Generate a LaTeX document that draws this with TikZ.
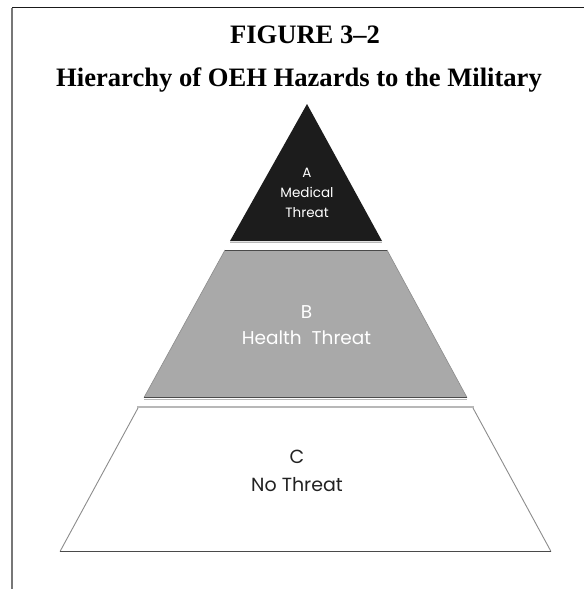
\documentclass[tikz,border=0pt]{standalone}
\usepackage{fontspec}
\setmainfont{Liberation Serif}
\newfontfamily\gothic{Poppins}
\definecolor{frameblack}{HTML}{1A1A1A}
\definecolor{framegray}{HTML}{777777}
\definecolor{topblack}{HTML}{1C1C1C}
\definecolor{midgray}{HTML}{A9A9A9}
\definecolor{edgedark}{HTML}{4A4A4A}
\definecolor{edgegray}{HTML}{8C8C8C}
\definecolor{shadowgray}{HTML}{B8B8B8}
\definecolor{textdark}{HTML}{222222}
\tikzset{
  titletext/.style={anchor=base, inner sep=0pt, font=\fontsize{26.6}{30}\selectfont\bfseries},
  lvltext/.style={anchor=base, inner sep=0pt},
}
\begin{document}
\begin{tikzpicture}[x=1pt,y=-1pt]
\useasboundingbox (0,0) rectangle (584,589);
% frame
\draw[frameblack, line width=1.3pt] (12,7.5) -- (584,7.5);
\draw[framegray, line width=1.6pt] (12,7.5) -- (12,589);
% titles
\node[titletext] (t1) at (305,43) {FIGURE 3–2};
\node[titletext] (t2) at (299,86) {Hierarchy of OEH Hazards to the Military};
% level A
\fill[topblack] (307,104) -- (382,241) -- (230,241) -- cycle;
\draw[shadowgray, line width=1.2pt] (230,242.3) -- (382,242.3);
% level B
\fill[midgray] (225,250) -- (387,250) -- (467,397.5) -- (144,397.5) -- cycle;
\draw[edgegray, line width=0.6pt] (225,250) -- (144,397.5);
\draw[edgegray, line width=0.6pt] (387,250) -- (467,397.5);
\draw[edgedark, line width=1.3pt] (225,250.3) -- (387,250.3);
\draw[edgedark, line width=1.3pt] (144,397.3) -- (467,397.3);
\draw[shadowgray, line width=1pt] (144,399) -- (467,399);
% level C
\fill[white] (138,408) -- (473,408) -- (551,551.5) -- (60,551.5) -- cycle;
\draw[shadowgray, line width=2.4pt] (137,407) -- (474,407);
\draw[edgegray, line width=0.9pt] (138,408) -- (60,551.5);
\draw[edgegray, line width=0.9pt] (473,408) -- (551,551.5);
\draw[edgedark, line width=1.6pt] (60,551.5) -- (551,551.5);
% texts
\node[lvltext, white, font=\gothic\fontsize{13.5}{16}\selectfont] (a1) at (307,177) {A};
\node[lvltext, white, font=\gothic\fontsize{13.5}{16}\selectfont] (a2) at (307,197) {Medical};
\node[lvltext, white, font=\gothic\fontsize{13.5}{16}\selectfont] (a3) at (307,217) {Threat};
\node[lvltext, white, font=\gothic\fontsize{18.5}{22}\selectfont] (b1) at (306.5,318) {B};
\node[lvltext, white, font=\gothic\fontsize{18.5}{22}\selectfont] (b2) at (306.5,344) {Health\ \ Threat};
\node[lvltext, textdark, font=\gothic\fontsize{19}{22}\selectfont] (c1) at (297,463) {C};
\node[lvltext, textdark, font=\gothic\fontsize{19}{22}\selectfont] (c2) at (297,491.5) {No Threat};
\end{tikzpicture}
\end{document}
